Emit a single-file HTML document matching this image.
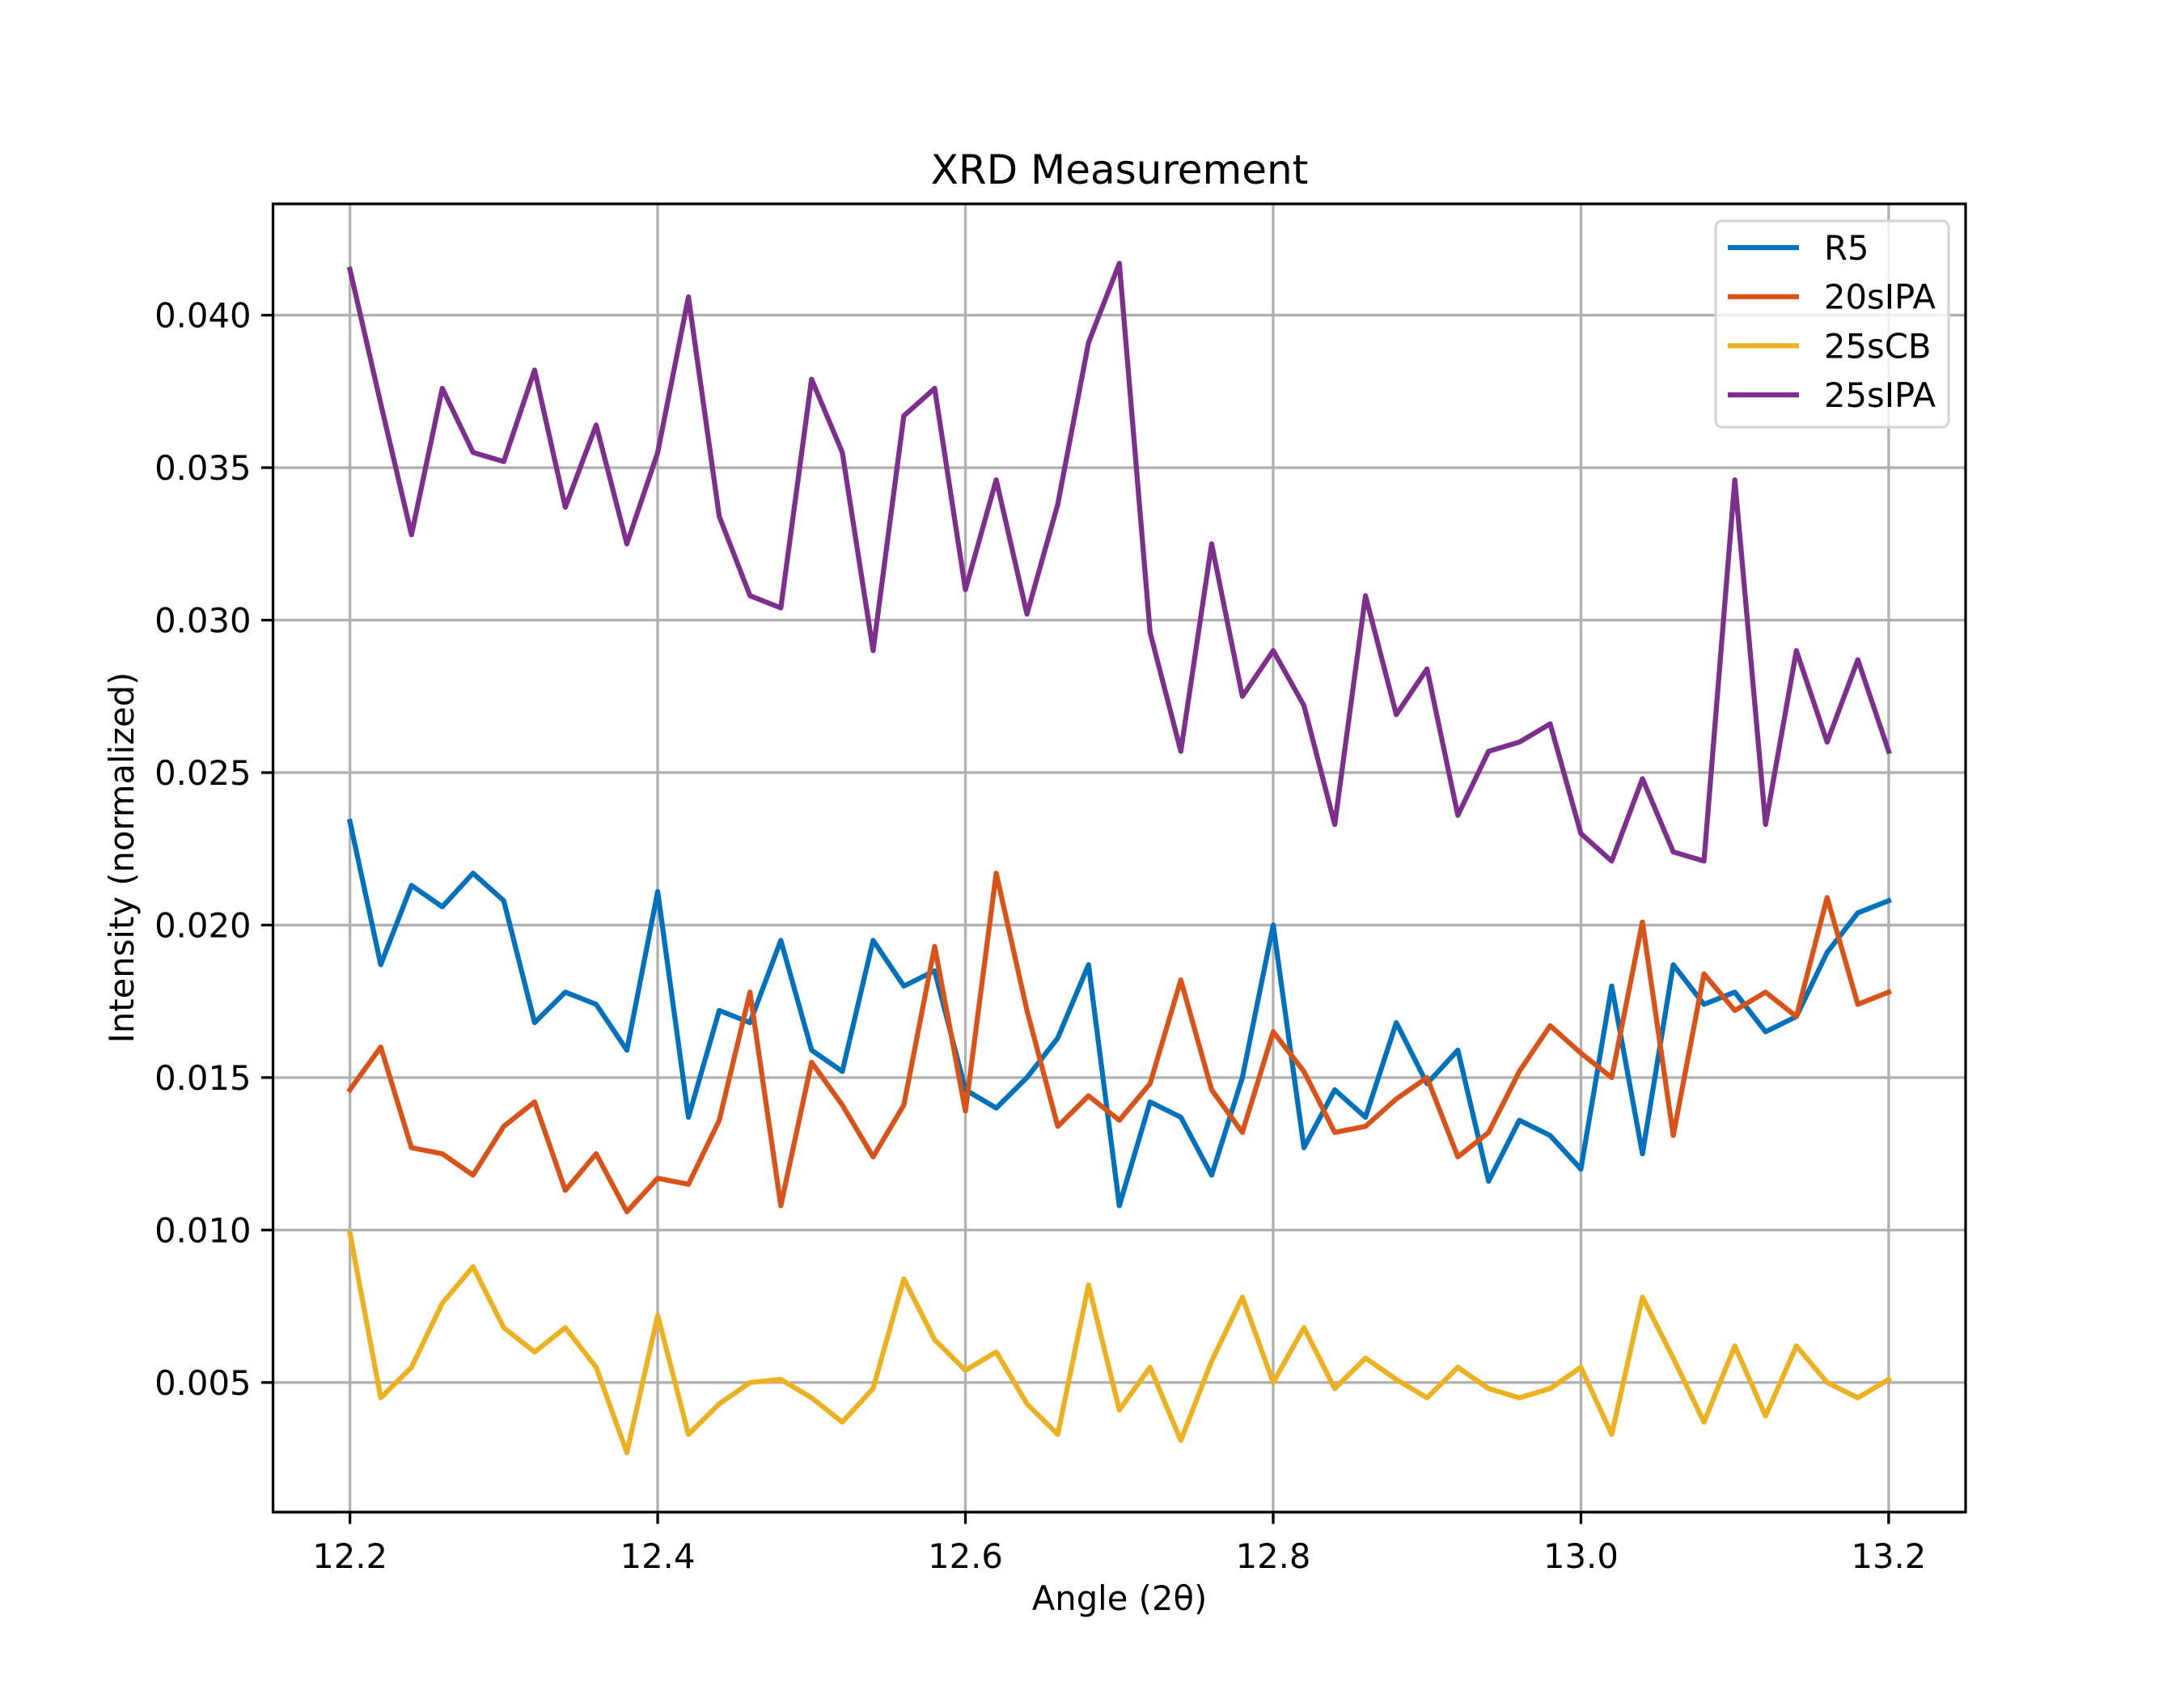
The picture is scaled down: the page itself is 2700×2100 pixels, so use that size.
<!DOCTYPE html>
<html><head><meta charset="utf-8"><style>
html,body{margin:0;padding:0;background:#fff}
svg{display:block}
text{font-family:"DejaVu Sans","Liberation Sans",sans-serif;fill:#000}
</style></head><body>
<svg id="chart" width="2700" height="2100" viewBox="0 0 2700 2100" xmlns="http://www.w3.org/2000/svg">
<rect width="2700" height="2100" fill="#fff"/>
<g id="grid"></g>
<g id="series"></g>
<rect x="337.5" y="252" width="2092.5" height="1617" fill="none" stroke="#000" stroke-width="3.3"/>
<g id="ticks"></g>
<text x="1384" y="227" font-size="50" text-anchor="middle">XRD Measurement</text>
<text x="1384" y="1990" font-size="41.7" text-anchor="middle">Angle (2θ)</text>
<text transform="translate(165,1060) rotate(-90)" font-size="41.7" text-anchor="middle">Intensity (normalized)</text>
<g id="legend">
<rect x="2121" y="273" width="288" height="255" rx="8" fill="#fff" fill-opacity="0.8" stroke="#d5d5d5" stroke-width="3.3"/>
</g>
</svg>
<script>
const xValues = [];
for (let i = 0; i <= 50; i++) xValues.push(+(12.2 + i * 0.02).toFixed(2));
const seriesNames = ["R5", "20sIPA", "25sCB", "25sIPA"];
const r5 = [0.0234,0.0187,0.0213,0.0206,0.0217,0.0208,0.0168,0.0178,0.0174,0.0159,0.0211,0.0137,0.0172,0.0168,0.0195,0.0159,0.0152,0.0195,0.0180,0.0185,0.0146,0.0140,0.0150,0.0163,0.0187,0.0108,0.0142,0.0137,0.0118,0.0150,0.0200,0.0127,0.0146,0.0137,0.0168,0.0148,0.0159,0.0116,0.0136,0.0131,0.0120,0.0180,0.0125,0.0187,0.0174,0.0178,0.0165,0.0170,0.0191,0.0204,0.0208];
const ipa20 = [0.0146,0.0160,0.0127,0.0125,0.0118,0.0134,0.0142,0.0113,0.0125,0.0106,0.0117,0.0115,0.0136,0.0178,0.0108,0.0155,0.0141,0.0124,0.0141,0.0193,0.0139,0.0217,0.0172,0.0134,0.0144,0.0136,0.0148,0.0182,0.0146,0.0132,0.0165,0.0152,0.0132,0.0134,0.0143,0.0150,0.0124,0.0132,0.0152,0.0167,0.0158,0.0150,0.0201,0.0131,0.0184,0.0172,0.0178,0.0170,0.0209,0.0174,0.0178];
const cb25 = [0.0099,0.0045,0.0055,0.0076,0.0088,0.0068,0.0060,0.0068,0.0055,0.0027,0.0072,0.0033,0.0043,0.0050,0.0051,0.0045,0.0037,0.0048,0.0084,0.0064,0.0054,0.0060,0.0043,0.0033,0.0082,0.0041,0.0055,0.0031,0.0057,0.0078,0.0050,0.0068,0.0048,0.0058,0.0051,0.0045,0.0055,0.0048,0.0045,0.0048,0.0055,0.0033,0.0078,0.0058,0.0037,0.0062,0.0039,0.0062,0.0050,0.0045,0.0051];
const ipa25 = [0.0415,0.0371,0.0328,0.0376,0.0355,0.0352,0.0382,0.0337,0.0364,0.0325,0.0355,0.0406,0.0334,0.0308,0.0304,0.0379,0.0355,0.0290,0.0367,0.0376,0.0310,0.0346,0.0302,0.0338,0.0391,0.0417,0.0296,0.0257,0.0325,0.0275,0.0290,0.0272,0.0233,0.0308,0.0269,0.0284,0.0236,0.0257,0.0260,0.0266,0.0230,0.0221,0.0248,0.0224,0.0221,0.0346,0.0233,0.0290,0.0260,0.0287,0.0257];
const xTicks = [12.2, 12.4, 12.6, 12.8, 13.0, 13.2];
const xTickLabels = ["12.2", "12.4", "12.6", "12.8", "13.0", "13.2"];
const yTicks = [0.005, 0.010, 0.015, 0.020, 0.025, 0.030, 0.035, 0.040];
const yTickLabels = ["0.005", "0.010", "0.015", "0.020", "0.025", "0.030", "0.035", "0.040"];

const NS = "http://www.w3.org/2000/svg";
const L = 337.5, R = 2430, T = 252, B = 1869;
const allY = r5.concat(ipa20, cb25, ipa25);
const yMin0 = Math.min(...allY), yMax0 = Math.max(...allY), yPad = (yMax0 - yMin0) * 0.05;
const xMin = xValues[0] - (xValues[xValues.length-1]-xValues[0])*0.05;
const xMax = xValues[xValues.length-1] + (xValues[xValues.length-1]-xValues[0])*0.05;
const xs = v => L + (v - xMin) / (xMax - xMin) * (R - L);
const ys = v => B - (v - (yMin0 - yPad)) / ((yMax0 + yPad) - (yMin0 - yPad)) * (B - T);
function mk(tag, attrs, parent) { const e = document.createElementNS(NS, tag); for (const k in attrs) e.setAttribute(k, attrs[k]); parent.appendChild(e); return e; }
const grid = document.getElementById('grid'), ticks = document.getElementById('ticks');
xTicks.forEach((t, i) => {
  const x = xs(t);
  const g = mk('line', {x1:x, x2:x, y1:T, y2:B, stroke:'#b0b0b0', 'stroke-width':3.3}, grid);
  
  
  const tk = mk('line', {x1:x, x2:x, y1:B, y2:B+14.6, stroke:'#000', 'stroke-width':3.3}, ticks);
  
  
  const lb = mk('text', {x:x, y:B+69, 'font-size':41.7, 'text-anchor':'middle'}, ticks);
  lb.textContent = xTickLabels[i];
  
  
});
yTicks.forEach((t, i) => {
  const y = ys(t);
  const g = mk('line', {x1:L, x2:R, y1:y, y2:y, stroke:'#b0b0b0', 'stroke-width':3.3}, grid);
  
  
  const tk = mk('line', {x1:L-14.6, x2:L, y1:y, y2:y, stroke:'#000', 'stroke-width':3.3}, ticks);
  
  
  const lb = mk('text', {x:L-27, y:y+15, 'font-size':41.7, 'text-anchor':'end'}, ticks);
  lb.textContent = yTickLabels[i];
  
  
});
const colors = ['#0072BD', '#D95319', '#EDB120', '#7E2F8E'];
const data = [r5, ipa20, cb25, ipa25];
const seriesG = document.getElementById('series');
data.forEach((arr, si) => {
  const pts = arr.map((v, i) => xs(xValues[i]).toFixed(1) + ',' + ys(v).toFixed(1)).join(' ');
  const pl = mk('polyline', {points:pts, fill:'none', stroke:colors[si], 'stroke-width':6.25, 'stroke-linejoin':'round', 'stroke-linecap':'square'}, seriesG);
  
  
});
const leg = document.getElementById('legend');
seriesNames.forEach((n, i) => {
  const y = 306 + i * 60.7;
  const ln = mk('line', {x1:2136, x2:2224, y1:y, y2:y, stroke:colors[i], 'stroke-width':6.25}, leg);
  
  
  const tx = mk('text', {x:2255, y:y+15, 'font-size':41.7}, leg);
  tx.textContent = n;
  
  
});
</script>
</body></html>
